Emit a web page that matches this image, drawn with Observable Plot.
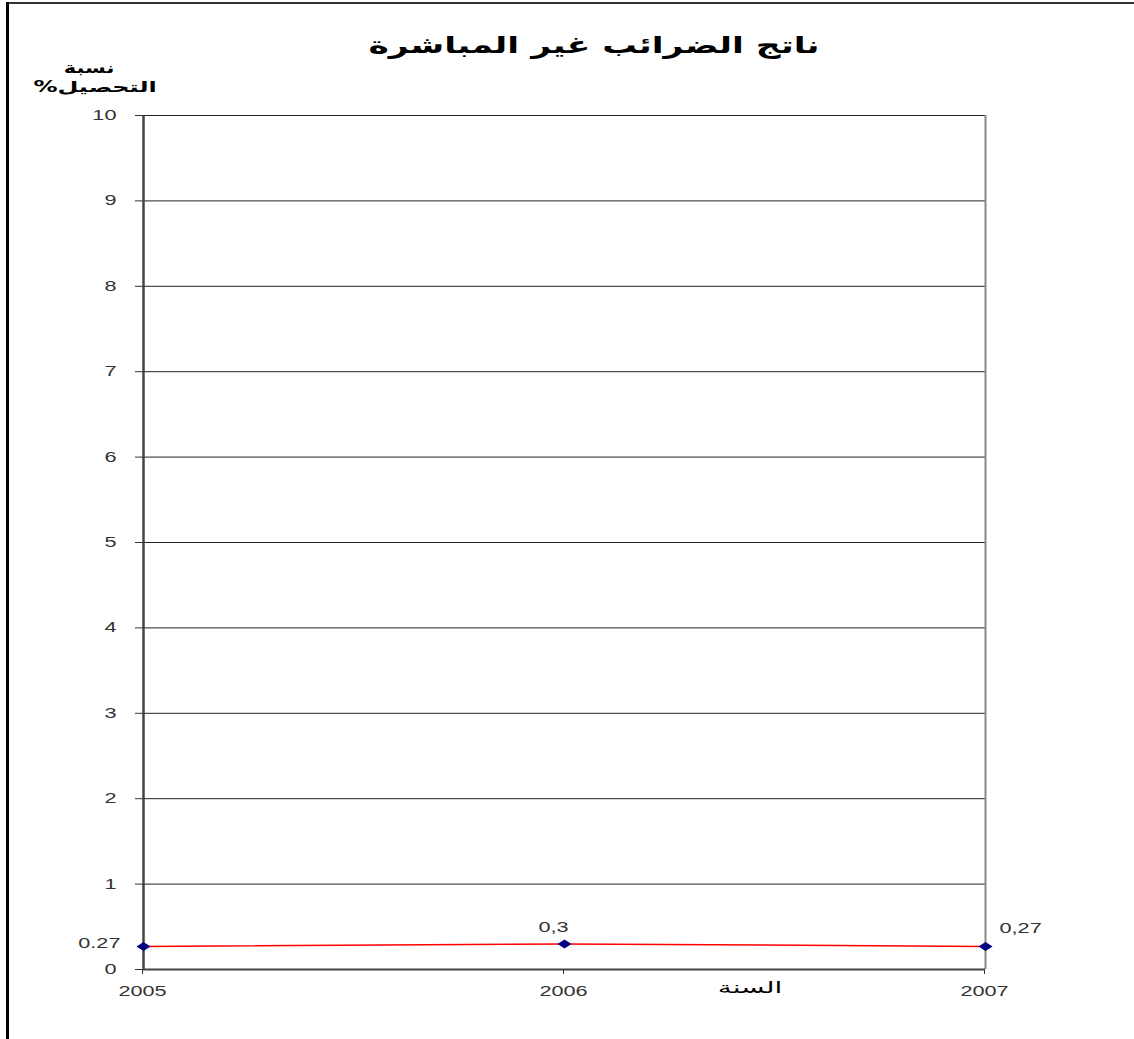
<!DOCTYPE html>
<html>
<head>
<meta charset="utf-8">
<script src="https://cdn.jsdelivr.net/npm/d3@7"></script>
<script src="https://cdn.jsdelivr.net/npm/@observablehq/plot@0.6"></script>
<style>
  html, body { margin: 0; padding: 0; background: #fff; }
  #wrap { position: relative; width: 1134px; height: 1039px; overflow: hidden; background: #fff; }
  #chart { position: absolute; left: 0; top: 62px; z-index: 1; }
  #chart svg text { font-family: "Liberation Sans", "DejaVu Sans", sans-serif; }
  #frameTop { position: absolute; left: 7px; top: 2px; width: 1127px; height: 0; border-top: 2px solid #333; z-index: 2; }
  #frameLeft { position: absolute; left: 6px; top: 2px; width: 0; height: 1037px; border-left: 3px solid #000; z-index: 2; }
  .lbl { position: absolute; z-index: 3; white-space: nowrap; direction: rtl; color: #000;
         font-family: "DejaVu Sans", sans-serif; font-weight: bold; line-height: 1; }
  #title { left: 594px; top: 34px; font-size: 23px; transform: translateX(-50%) scaleX(1.5); }
  #ylab1 { left: 89px; top: 61px; font-size: 15px; transform: translateX(-50%) scaleX(1.4); }
  #ylab2 { left: 95px; top: 80px; font-size: 15px; transform: translateX(-50%) scaleX(1.6); }
  #xlab { left: 750px; top: 980px; font-size: 16px; font-weight: normal; transform: translateX(-50%) scaleX(1.75); }
</style>
</head>
<body>
<div id="wrap">
  <div id="chart"></div>
  <div id="frameTop"></div>
  <div id="frameLeft"></div>
  <div id="title" class="lbl"></div>
  <div id="ylab1" class="lbl"></div>
  <div id="ylab2" class="lbl"></div>
  <div id="xlab" class="lbl"></div>
</div>
<script>
const titleText = "ناتج الضرائب غير المباشرة";
const yLabelLines = ["نسبة", "التحصيل%"];
const xLabelText = "السنة";
const years = [2005, 2006, 2007];
const values = [0.27, 0.3, 0.27];
const valueLabels = ["0.27", "0,3", "0,27"];
const yTicks = [0, 1, 2, 3, 4, 5, 6, 7, 8, 9, 10];

document.getElementById("title").textContent = titleText;
document.getElementById("ylab1").textContent = yLabelLines[0];
document.getElementById("ylab2").textContent = yLabelLines[1];
document.getElementById("xlab").textContent = xLabelText;

const data = years.map((y, i) => ({year: y, value: values[i], label: valueLabels[i]}));

// flat diamond marker, wider than tall
const flatDiamond = {
  draw(ctx) {
    ctx.moveTo(-7, 0); ctx.lineTo(0, -4.5); ctx.lineTo(7, 0); ctx.lineTo(0, 4.5); ctx.closePath();
  }
};

const chart = Plot.plot({
  width: 1134,
  height: 977,
  marginTop: 53,
  marginBottom: 70,
  marginLeft: 143,
  marginRight: 149,
  style: {fontSize: "14px", color: "#333", background: "transparent"},
  x: {domain: [2005, 2007], label: null},
  y: {domain: [0, 10], label: null},
  marks: [
    Plot.ruleY(yTicks.filter(t => t > 0), {stroke: "#222", strokeWidth: 1}),
    Plot.ruleX([2007], {stroke: "#888", strokeWidth: 2}),
    Plot.ruleY([0], {stroke: "#444", strokeWidth: 2}),
    Plot.ruleX([2005], {stroke: "#444", strokeWidth: 2.5}),
    Plot.axisX({ticks: years, tickFormat: d => String(d), tickSize: 5, tickPadding: 12, dx: -1, fill: "#333", stroke: "#333", fontSize: 14}),
    Plot.axisY({ticks: yTicks, tickSize: 8, tickPadding: 19, fill: "#333", stroke: "#333", fontSize: 14}),
    Plot.line(data, {x: "year", y: "value", stroke: "#ff0000", strokeWidth: 1.5}),
    Plot.dot(data, {x: "year", y: "value", symbol: flatDiamond, fill: "#000080", stroke: "none"}),
    Plot.text(data.slice(0, 1), {x: "year", y: "value", text: "label", textAnchor: "end", dx: -23, dy: -3, fill: "#333", fontSize: 14}),
    Plot.text(data.slice(1, 2), {x: "year", y: "value", text: "label", dx: -11, dy: -16, fill: "#333", fontSize: 14}),
    Plot.text(data.slice(2, 3), {x: "year", y: "value", text: "label", textAnchor: "start", dx: 14, dy: -18, fill: "#333", fontSize: 14})
  ]
});
// widen the glyphs horizontally about each text's own anchor point, as in the reference
d3.select(chart).selectAll("text").each(function() {
  const t = this.getAttribute("transform") || "";
  this.setAttribute("transform", (t + " scale(1.55,1)").trim());
});
document.getElementById("chart").appendChild(chart);
</script>
</body>
</html>
